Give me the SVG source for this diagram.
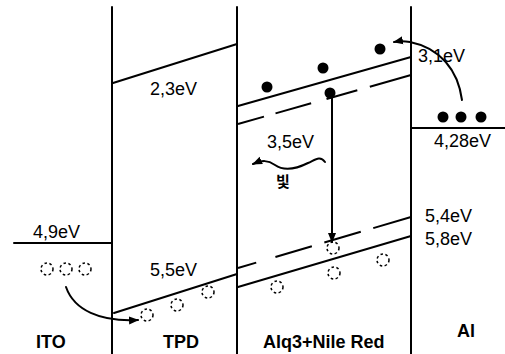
<svg xmlns="http://www.w3.org/2000/svg" width="505" height="354" viewBox="0 0 505 354">
<defs>
<style>
.ln{stroke:#000;stroke-width:2;fill:none;stroke-linecap:round}
.dash{stroke:#000;stroke-width:2;fill:none}
.e{fill:#000}
.h{fill:none;stroke:#000;stroke-width:1.5;stroke-dasharray:2.5 2.5}
.t{font-family:"Liberation Sans",Arial,sans-serif;font-size:18px;fill:#000}
.b{font-family:"Liberation Sans",Arial,sans-serif;font-size:18px;font-weight:bold;fill:#000}
.k{font-family:"Noto Sans CJK KR",sans-serif;font-size:15px;font-weight:bold;fill:#000}
</style>
<marker id="ah" viewBox="0 0 10 10" refX="9" refY="5" markerWidth="10" markerHeight="10" markerUnits="userSpaceOnUse" orient="auto">
<path d="M0,1 L10,5 L0,9 Z" fill="#000"/>
</marker>
</defs>
<rect width="505" height="354" fill="#fff"/>

<g id="ITO">
<line class="ln" x1="14" y1="243" x2="112" y2="243"/>
<text class="t" x="33" y="238">4,9eV</text>
<circle class="h" cx="47" cy="269" r="6"/>
<circle class="h" cx="66" cy="269" r="6"/>
<circle class="h" cx="85" cy="269" r="6"/>
<text class="b" x="36" y="348">ITO</text>
</g>

<g id="TPD">
<line class="ln" x1="113" y1="83" x2="237" y2="44"/>
<text class="t" x="150" y="95">2,3eV</text>
<line class="ln" x1="114" y1="313" x2="237" y2="274"/>
<text class="t" x="150" y="276">5,5eV</text>
<circle class="h" cx="147" cy="315" r="6"/>
<circle class="h" cx="177" cy="305" r="6"/>
<circle class="h" cx="208" cy="292" r="6"/>
<text class="b" x="163" y="348">TPD</text>
</g>

<g id="Alq3">
<line class="ln" x1="238" y1="106" x2="411" y2="57"/>
<line class="dash" x1="238" y1="124" x2="411" y2="75" stroke-dasharray="27 12 37 16 32 13 50"/>
<line class="dash" x1="238" y1="268" x2="411" y2="217" stroke-dasharray="19 20 38 13 38 13 50"/>
<line class="ln" x1="238" y1="287" x2="411" y2="236"/>
<circle class="e" cx="267" cy="87" r="5.5"/>
<circle class="e" cx="323" cy="68" r="5.5"/>
<circle class="e" cx="380" cy="49" r="5.5"/>
<circle class="e" cx="330" cy="93" r="5.5"/>
<text class="t" x="267" y="148">3,5eV</text>
<text class="k" x="276" y="187">빛</text>
<circle class="h" cx="333" cy="248" r="6"/>
<circle class="h" cx="334" cy="273" r="6"/>
<circle class="h" cx="277" cy="287" r="6"/>
<circle class="h" cx="383" cy="260" r="6"/>
<text class="t" x="425" y="222">5,4eV</text>
<text class="t" x="425" y="245">5,8eV</text>
<text class="b" x="263" y="348">Alq3+Nile Red</text>
</g>

<g id="Al">
<line class="ln" x1="412" y1="128" x2="505" y2="128"/>
<circle class="e" cx="443" cy="117" r="5.5"/>
<circle class="e" cx="461" cy="117" r="5.5"/>
<circle class="e" cx="481" cy="117" r="5.5"/>
<text class="t" x="434" y="147">4,28eV</text>
<text class="t" x="418" y="62">3,1eV</text>
<text class="b" x="457" y="337">Al</text>
</g>

<g id="connectors">
<line class="ln" x1="112" y1="7" x2="112" y2="354"/>
<line class="ln" x1="237" y1="7" x2="237" y2="354"/>
<line class="ln" x1="411" y1="7" x2="411" y2="354"/>
<line class="ln" x1="332" y1="95" x2="332" y2="242" marker-end="url(#ah)"/>
<path class="ln" d="M462,100 C458,70 440,48 410,42 C404,41 399,41 394,42" stroke-width="1.5" marker-end="url(#ah)"/>
<path class="ln" d="M66,287 C74,310 100,322 138,320" stroke-width="1.5" marker-end="url(#ah)"/>
<path class="ln" d="M325,162 C320,155 315,160 308,163 C298,168 285,172 275,165 C268,160 262,160 253,164" stroke-width="1.5" marker-end="url(#ah)"/>
</g>
</svg>
